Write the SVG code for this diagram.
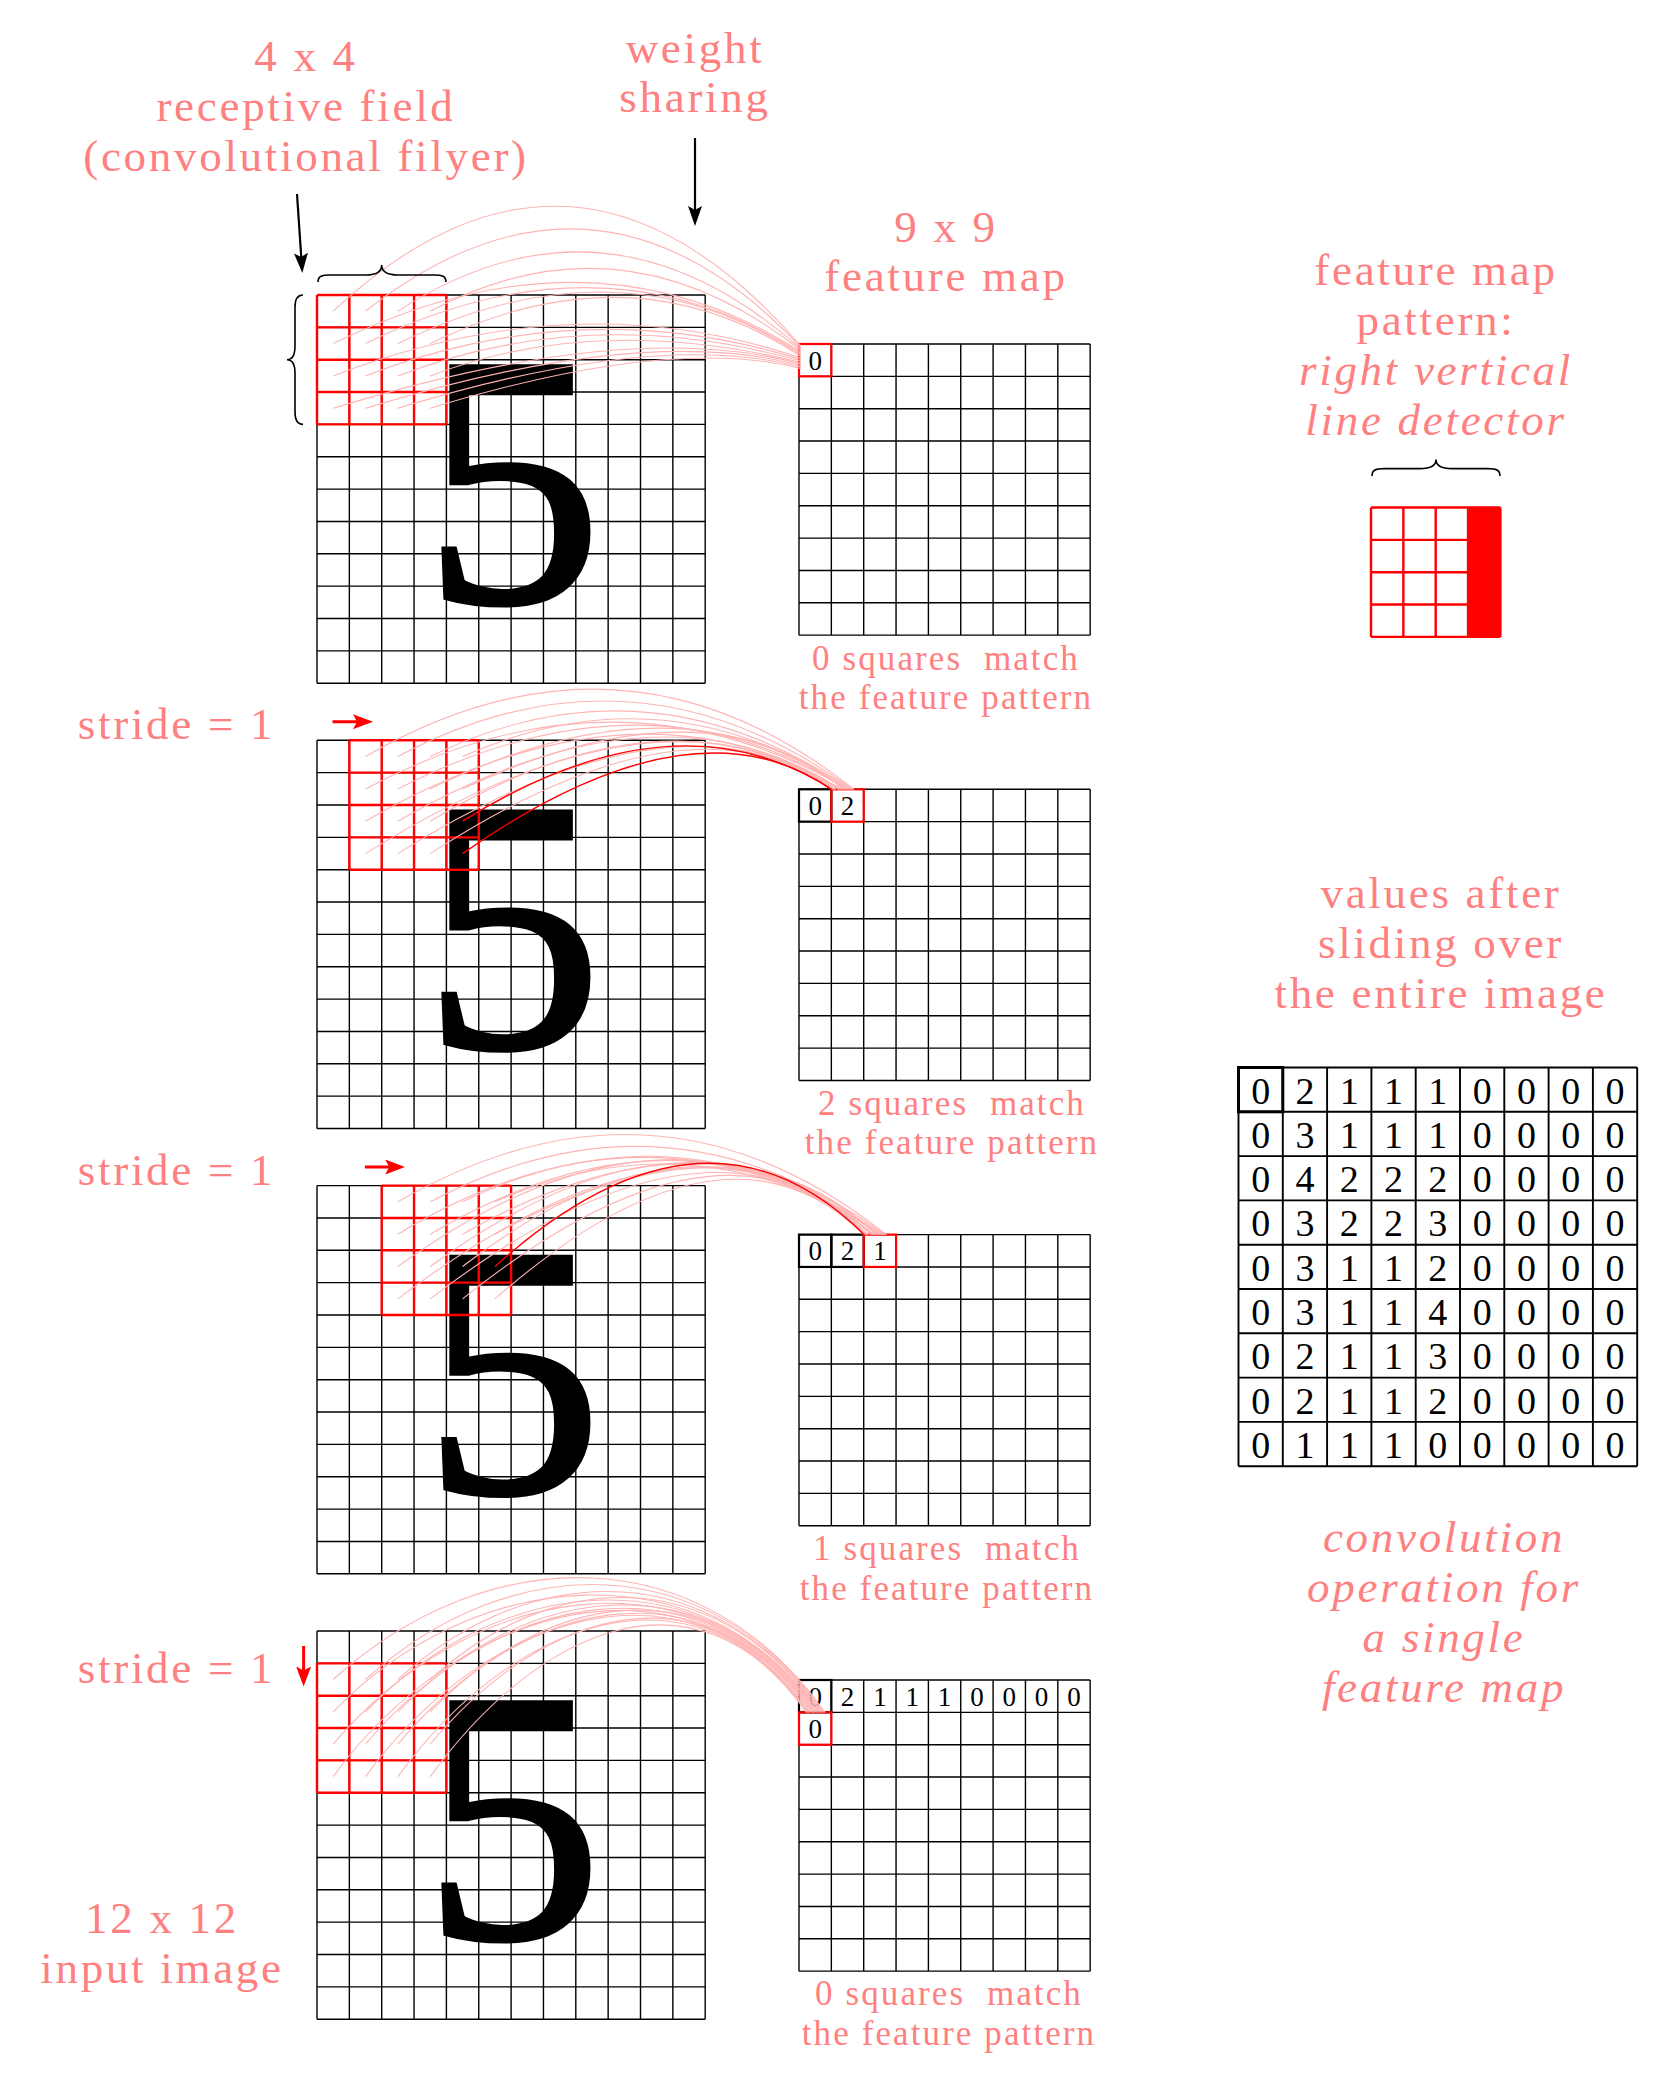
<svg xmlns="http://www.w3.org/2000/svg" xmlns:xlink="http://www.w3.org/1999/xlink" width="1665" height="2079" viewBox="0 0 1665 2079">
<style>
text{font-family:'Liberation Serif','Times New Roman',serif}
.lbl{font-size:45px;letter-spacing:2.7px;fill:#ff8080;text-anchor:middle}
.it{font-style:italic}
.cap{font-size:35px;letter-spacing:2.1px;fill:#ff8080;text-anchor:middle}
.five{font-size:360px;fill:#000;stroke:#000;stroke-width:4}
.d{font-size:27px;fill:#000;text-anchor:middle}
.md{font-size:38px;fill:#000;text-anchor:middle}
.grid{fill:none;stroke:#000;stroke-width:1.4}
.field{fill:none;stroke:#ff0000;stroke-width:2.4}
.tgt{fill:none;stroke:#ff0000;stroke-width:2.2}
.box{fill:none;stroke:#000;stroke-width:2.2}
.pink{fill:none;stroke:#ffb3b3;stroke-width:1.1}
.red{fill:none;stroke:#ff0000;stroke-width:1.4}
.brace{fill:none;stroke:#000;stroke-width:1.6}
.arrB{fill:none;stroke:#000;stroke-width:2.2}
.arrR{fill:none;stroke:#ff0000;stroke-width:3}
</style>
<defs>
<path id="g12" d="M0,0H388.2M0,32.35H388.2M0,64.7H388.2M0,97.05H388.2M0,129.4H388.2M0,161.75H388.2M0,194.1H388.2M0,226.45H388.2M0,258.8H388.2M0,291.15H388.2M0,323.5H388.2M0,355.85H388.2M0,388.2H388.2M0,0V388.2M32.35,0V388.2M64.7,0V388.2M97.05,0V388.2M129.4,0V388.2M161.75,0V388.2M194.1,0V388.2M226.45,0V388.2M258.8,0V388.2M291.15,0V388.2M323.5,0V388.2M355.85,0V388.2M388.2,0V388.2"/>
<path id="g9" d="M0,0H291.15M0,32.35H291.15M0,64.7H291.15M0,97.05H291.15M0,129.4H291.15M0,161.75H291.15M0,194.1H291.15M0,226.45H291.15M0,258.8H291.15M0,291.15H291.15M0,0V291.15M32.35,0V291.15M64.7,0V291.15M97.05,0V291.15M129.4,0V291.15M161.75,0V291.15M194.1,0V291.15M226.45,0V291.15M258.8,0V291.15M291.15,0V291.15"/>
<path id="g4" d="M0,0H129.4M0,32.35H129.4M0,64.7H129.4M0,97.05H129.4M0,129.4H129.4M0,0V129.4M32.35,0V129.4M64.7,0V129.4M97.05,0V129.4M129.4,0V129.4"/>
<path id="m9" d="M0,0H398.7M0,44.3H398.7M0,88.6H398.7M0,132.9H398.7M0,177.2H398.7M0,221.5H398.7M0,265.8H398.7M0,310.1H398.7M0,354.4H398.7M0,398.7H398.7M0,0V398.7M44.3,0V398.7M88.6,0V398.7M132.9,0V398.7M177.2,0V398.7M221.5,0V398.7M265.8,0V398.7M310.1,0V398.7M354.4,0V398.7M398.7,0V398.7"/>
<marker id="hb" viewBox="0 0 20 14" refX="12" refY="7" markerWidth="20" markerHeight="14" markerUnits="userSpaceOnUse" orient="auto"><path d="M0,0L20,7L0,14L4,7z" fill="#000"/></marker>
<marker id="hr" viewBox="0 0 20 15" refX="12" refY="7.5" markerWidth="20" markerHeight="15" markerUnits="userSpaceOnUse" orient="auto"><path d="M0,0L20,7.5L0,15L4,7.5z" fill="#ff0000"/></marker>
</defs>
<rect width="1665" height="2079" fill="#fff"/>

<g id="input1">
<use href="#g12" x="317" y="295" class="grid"/>
<text class="five" x="422.5" y="602">5</text>
<use href="#g4" x="317" y="295" class="field"/>
</g>
<g id="input2">
<use href="#g12" x="317" y="740.3" class="grid"/>
<text class="five" x="422.5" y="1047.3">5</text>
<use href="#g4" x="349.35" y="740.3" class="field"/>
</g>
<g id="input3">
<use href="#g12" x="317" y="1185.6" class="grid"/>
<text class="five" x="422.5" y="1492.6">5</text>
<use href="#g4" x="381.7" y="1185.6" class="field"/>
</g>
<g id="input4">
<use href="#g12" x="317" y="1631" class="grid"/>
<text class="five" x="422.5" y="1938">5</text>
<use href="#g4" x="317" y="1663.35" class="field"/>
</g>

<g id="fmap1">
<use href="#g9" x="799" y="344" class="grid"/>
<rect x="799" y="344" width="32.35" height="32.35" class="tgt"/>
<text class="d" x="815.2" y="369.5">0</text>
</g>
<g id="fmap2">
<use href="#g9" x="799" y="789.3" class="grid"/>
<rect x="799" y="789.3" width="32.35" height="32.35" class="box"/>
<rect x="831.35" y="789.3" width="32.35" height="32.35" class="tgt"/>
<text class="d" x="815.2 847.5" y="814.8">02</text>
</g>
<g id="fmap3">
<use href="#g9" x="799" y="1234.6" class="grid"/>
<rect x="799" y="1234.6" width="32.35" height="32.35" class="box"/>
<rect x="831.35" y="1234.6" width="32.35" height="32.35" class="box"/>
<rect x="863.7" y="1234.6" width="32.35" height="32.35" class="tgt"/>
<text class="d" x="815.2 847.5 879.9" y="1260.1">021</text>
</g>
<g id="fmap4">
<use href="#g9" x="799" y="1680" class="grid"/>
<rect x="799" y="1680" width="32.35" height="32.35" class="box"/>
<rect x="799" y="1712.35" width="32.35" height="32.35" class="tgt"/>
<text class="d" x="815.2 847.5 879.9 912.2 944.6 976.9 1009.3 1041.6 1074" y="1705.5">021110000</text>
<text class="d" x="815.2" y="1737.9">0</text>
</g>

<g id="connectors">
<g id="conn1" class="pink">
<path d="M333.2,311.2Q575,85 801,346"/>
<path d="M365.5,311.2Q597,130 801,347.5"/>
<path d="M397.9,311.2Q606,176 801,349"/>
<path d="M430.2,311.2Q622,209 801,350.5"/>
<path d="M333.2,343.6Q592,217 801,352"/>
<path d="M365.5,343.6Q604,227 801,353.5"/>
<path d="M397.9,343.6Q620,235 801,355"/>
<path d="M430.2,343.6Q632,245 801,356.5"/>
<path d="M333.2,375.9Q577,282 801,358"/>
<path d="M365.5,375.9Q583.5,292 801,359.5"/>
<path d="M397.9,375.9Q590,302 801,361"/>
<path d="M430.2,375.9Q596,312 801,362.5"/>
<path d="M333.2,408.3Q630,317 801,364"/>
<path d="M365.5,408.3Q643.5,323 801,365.5"/>
<path d="M397.9,408.3Q656,329 801,367"/>
<path d="M430.2,408.3Q669,335 801,368.5"/>
</g>
<g id="conn2">
<g class="pink">
<path d="M365.5,756.5Q624.5,607 854,789.5"/>
<path d="M397.9,756.5Q634,631 852.5,789.5"/>
<path d="M430.2,756.5Q646,651 851,789.5"/>
<path d="M462.6,756.5Q664,667 849.5,789.5"/>
<path d="M365.5,788.9Q617.5,655 848,789.5"/>
<path d="M397.9,788.9Q649,661 846.5,789.5"/>
<path d="M430.2,788.9Q680,667 845,789.5"/>
<path d="M462.6,788.9Q707,675 843.5,789.5"/>
<path d="M365.5,821.2Q636.5,664.6 842,789.5"/>
<path d="M397.9,821.2Q659,670.6 840.5,789.5"/>
<path d="M430.2,821.2Q667,678.6 839,789.5"/>
<path d="M365.5,853.6Q661.5,668.4 836,789.5"/>
<path d="M397.9,853.6Q678,678.4 834.5,789.5"/>
<path d="M430.2,853.6Q691,684.4 833,789.5"/>
</g>
<path class="red" d="M462.6,821.2Q675,688.6 832,789.5"/>
<path class="red" d="M462.6,853.6Q692.6,692.4 831.5,789.5"/>
</g>
<g id="conn3">
<g class="pink" transform="translate(32.35,445.3)">
<path d="M365.5,756.5Q624.5,607 854,789.5"/>
<path d="M397.9,756.5Q634,631 852.5,789.5"/>
<path d="M430.2,756.5Q646,651 851,789.5"/>
<path d="M462.6,756.5Q664,667 849.5,789.5"/>
<path d="M365.5,788.9Q617.5,635 848,789.5"/>
<path d="M397.9,788.9Q649,641 846.5,789.5"/>
<path d="M430.2,788.9Q680,647 845,789.5"/>
<path d="M462.6,788.9Q707,655 843.5,789.5"/>
<path d="M365.5,821.2Q636.5,624.6 842,789.5"/>
<path d="M397.9,821.2Q659,630.6 840.5,789.5"/>
<path d="M430.2,821.2Q667,638.6 839,789.5"/>
<path d="M365.5,853.6Q661.5,628.4 836,789.5"/>
<path d="M397.9,853.6Q678,638.4 834.5,789.5"/>
<path d="M430.2,853.6Q691,644.4 833,789.5"/>
<path d="M462.6,853.6Q692.6,652.4 831.5,789.5"/>
</g>
<path class="red" d="M495,1266.5Q705,1077.3 864.3,1234.8"/>
</g>
<g id="conn4" class="pink">
<path d="M333.2,1679.5C490.2,1538 703.6,1539.3 825,1712.5"/>
<path d="M365.5,1679.5C513.4,1546.4 709.8,1549.5 824,1712.5"/>
<path d="M397.9,1679.5C536.4,1554.8 715.6,1559.8 822.6,1712.5"/>
<path d="M430.2,1679.5C560.7,1562 720.6,1568.7 821.4,1712.5"/>
<path d="M333.2,1711.9C474.3,1565.9 703.5,1546.2 820,1712.5"/>
<path d="M365.5,1711.9C500.7,1572.1 707.2,1553.2 818.8,1712.5"/>
<path d="M397.9,1711.9C527,1578.3 711,1560.3 817.6,1712.5"/>
<path d="M430.2,1711.9C553.3,1584.6 714.7,1567.5 816.4,1712.5"/>
<path d="M333.2,1744.2C466.8,1585.1 695.8,1542.4 815,1712.5"/>
<path d="M365.5,1744.2C493.6,1591.5 699.4,1549.3 813.8,1712.5"/>
<path d="M397.9,1744.2C520.6,1598 703,1556.2 812.6,1712.5"/>
<path d="M430.2,1744.2C547.5,1604.4 706.6,1563 811.4,1712.5"/>
<path d="M333.2,1776.6C458,1604.8 688.1,1538.6 810,1712.5"/>
<path d="M365.5,1776.6C485.5,1611.5 691.6,1545.3 808.8,1712.5"/>
<path d="M397.9,1776.6C513.1,1618.1 695.2,1552.1 807.6,1712.5"/>
<path d="M430.2,1776.6C540.6,1624.7 698.7,1558.8 806.4,1712.5"/>
</g>
</g>

<g id="arrows">
<path class="arrB" d="M297,194L301.8,265" marker-end="url(#hb)"/>
<path class="arrB" d="M695,138L695,218" marker-end="url(#hb)"/>
<path class="arrR" d="M332.5,721.7L365,721.7" marker-end="url(#hr)"/>
<path class="arrR" d="M364.9,1167L397.2,1167" marker-end="url(#hr)"/>
<path class="arrR" d="M303.6,1646L303.6,1678.5" marker-end="url(#hr)"/>
</g>

<g id="braces">
<path class="brace" d="M318,282C318,276 322,275 330,275L366,275C376,275 381.7,272 381.7,265C381.7,272 388,275 398,275L434,275C442,275 446,276 446,282"/>
<path class="brace" d="M303,295C297,295 295,299 295,307L295,346C295,355 292,359.7 287,359.7C292,359.7 295,364 295,373L295,412C295,420 297,424.4 303,424.4"/>
<path class="brace" d="M1372,476C1372,470 1376,468.6 1384,468.6L1420,468.6C1430,468.6 1436,466 1436,459.5C1436,466 1442,468.6 1452,468.6L1488,468.6C1496,468.6 1500,470 1500,476"/>
</g>

<g id="pattern">
<rect x="1468.05" y="507.5" width="32.35" height="129.4" fill="#ff0000"/>
<use href="#g4" x="1371" y="507.5" class="field"/>
</g>

<g id="result">
<use href="#m9" x="1238.5" y="1067.5" class="grid" style="stroke-width:1.9"/>
<rect x="1238.5" y="1067.5" width="44.3" height="44.3" fill="none" stroke="#000" stroke-width="3"/>
<text class="md" x="1260.65 1304.95 1349.25 1393.55 1437.85 1482.15 1526.45 1570.75 1615.05" y="1103.5">021110000</text>
<text class="md" x="1260.65 1304.95 1349.25 1393.55 1437.85 1482.15 1526.45 1570.75 1615.05" y="1147.8">031110000</text>
<text class="md" x="1260.65 1304.95 1349.25 1393.55 1437.85 1482.15 1526.45 1570.75 1615.05" y="1192.1">042220000</text>
<text class="md" x="1260.65 1304.95 1349.25 1393.55 1437.85 1482.15 1526.45 1570.75 1615.05" y="1236.4">032230000</text>
<text class="md" x="1260.65 1304.95 1349.25 1393.55 1437.85 1482.15 1526.45 1570.75 1615.05" y="1280.7">031120000</text>
<text class="md" x="1260.65 1304.95 1349.25 1393.55 1437.85 1482.15 1526.45 1570.75 1615.05" y="1325">031140000</text>
<text class="md" x="1260.65 1304.95 1349.25 1393.55 1437.85 1482.15 1526.45 1570.75 1615.05" y="1369.3">021130000</text>
<text class="md" x="1260.65 1304.95 1349.25 1393.55 1437.85 1482.15 1526.45 1570.75 1615.05" y="1413.6">021120000</text>
<text class="md" x="1260.65 1304.95 1349.25 1393.55 1437.85 1482.15 1526.45 1570.75 1615.05" y="1457.9">011100000</text>
</g>

<g id="labels">
<g id="lbl-field"><text class="lbl" x="306" y="71.4">4 x 4</text><text class="lbl" x="306" y="121.4">receptive field</text><text class="lbl" x="306" y="170.5">(convolutional filyer)</text></g>
<g id="lbl-weight"><text class="lbl" x="695" y="62.5">weight</text><text class="lbl" x="695" y="111.6">sharing</text></g>
<g id="lbl-fmap"><text class="lbl" x="946" y="242">9 x 9</text><text class="lbl" x="946" y="291">feature map</text></g>
<g id="lbl-pattern"><text class="lbl" x="1436" y="285.4">feature map</text><text class="lbl" x="1436" y="334.8">pattern:</text><text class="lbl it" x="1436" y="385">right vertical</text><text class="lbl it" x="1436" y="435">line detector</text></g>
<g id="lbl-values"><text class="lbl" x="1441" y="908">values after</text><text class="lbl" x="1441" y="958">sliding over</text><text class="lbl" x="1441" y="1008">the entire image</text></g>
<g id="lbl-conv"><text class="lbl it" x="1444" y="1552">convolution</text><text class="lbl it" x="1444" y="1602">operation for</text><text class="lbl it" x="1444" y="1652">a single</text><text class="lbl it" x="1444" y="1702">feature map</text></g>
<g id="lbl-stride"><text class="lbl" x="176.5" y="739.3">stride = 1</text><text class="lbl" x="176.5" y="1184.6">stride = 1</text><text class="lbl" x="176.5" y="1682.7">stride = 1</text></g>
<g id="lbl-input"><text class="lbl" x="162" y="1932.7">12 x 12</text><text class="lbl" x="162" y="1982.7">input image</text></g>
<g id="lbl-cap1"><text class="cap" x="946" y="669.5" xml:space="preserve">0 squares  match</text><text class="cap" x="946" y="709">the feature pattern</text></g>
<g id="lbl-cap2"><text class="cap" x="952" y="1114.8" xml:space="preserve">2 squares  match</text><text class="cap" x="952" y="1154.3">the feature pattern</text></g>
<g id="lbl-cap3"><text class="cap" x="947" y="1560.1" xml:space="preserve">1 squares  match</text><text class="cap" x="947" y="1599.6">the feature pattern</text></g>
<g id="lbl-cap4"><text class="cap" x="949" y="2005.2" xml:space="preserve">0 squares  match</text><text class="cap" x="949" y="2044.7">the feature pattern</text></g>
</g>
</svg>
